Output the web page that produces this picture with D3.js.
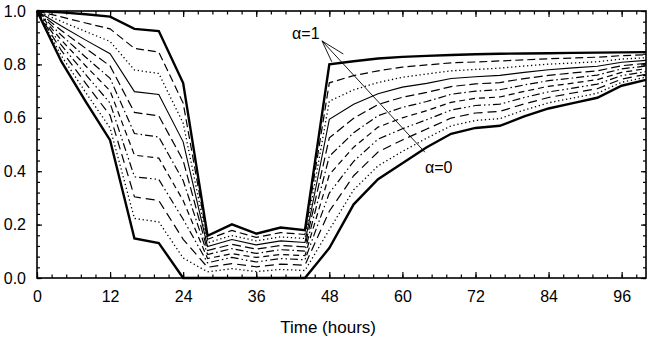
<!DOCTYPE html>
<html>
<head>
<meta charset="utf-8">
<script src="https://cdn.jsdelivr.net/npm/d3@7"></script>
<style>
body { margin: 0; background: #fff; }
svg { display: block; font-family: "Liberation Sans", Arial, sans-serif; }
.axis path { display: none; }
.axis line { stroke: #000; stroke-width: 1.2; }
.axis text { font-size: 16px; fill: #000; }
.frame { fill: none; stroke: #000; stroke-width: 1.6; }
.curve { fill: none; stroke: #000; }
.note { font-size: 16px; fill: #000; }
.pointer { stroke: #000; stroke-width: 0.9; }
</style>
</head>
<body>
<svg class="recovery" width="650" height="342"></svg>
<script>
// sample times (hours)
const hours = [0, 4, 8, 12, 16, 20, 24, 28, 32, 36, 40, 44, 48, 52, 56, 60, 64, 68, 72, 76, 80, 84, 88, 92, 96, 100];

// one curve per alpha
const alpha10 = [1.000, 0.995, 0.988, 0.979, 0.933, 0.925, 0.730, 0.158, 0.201, 0.166, 0.189, 0.179, 0.800, 0.812, 0.822, 0.828, 0.832, 0.835, 0.838, 0.840, 0.841, 0.842, 0.843, 0.844, 0.845, 0.846];
const alpha09 = [1.000, 0.978, 0.955, 0.933, 0.860, 0.846, 0.655, 0.145, 0.178, 0.152, 0.170, 0.163, 0.731, 0.758, 0.776, 0.790, 0.798, 0.806, 0.809, 0.813, 0.817, 0.821, 0.824, 0.827, 0.833, 0.836];
const alpha08 = [1.000, 0.961, 0.923, 0.886, 0.779, 0.766, 0.580, 0.132, 0.159, 0.139, 0.154, 0.148, 0.662, 0.705, 0.732, 0.752, 0.764, 0.776, 0.781, 0.786, 0.794, 0.801, 0.805, 0.810, 0.820, 0.825];
const alpha07 = [1.000, 0.944, 0.891, 0.840, 0.698, 0.687, 0.510, 0.118, 0.144, 0.124, 0.139, 0.133, 0.594, 0.651, 0.690, 0.715, 0.729, 0.747, 0.754, 0.759, 0.770, 0.780, 0.787, 0.793, 0.808, 0.815];
const alpha06 = [1.000, 0.927, 0.860, 0.794, 0.620, 0.607, 0.440, 0.103, 0.126, 0.108, 0.122, 0.117, 0.525, 0.598, 0.650, 0.677, 0.695, 0.717, 0.727, 0.732, 0.747, 0.759, 0.768, 0.776, 0.795, 0.804];
const alpha05 = [1.000, 0.909, 0.827, 0.748, 0.541, 0.528, 0.365, 0.088, 0.110, 0.092, 0.106, 0.101, 0.456, 0.544, 0.608, 0.639, 0.661, 0.688, 0.700, 0.705, 0.723, 0.739, 0.749, 0.760, 0.783, 0.794];
const alpha04 = [1.000, 0.891, 0.794, 0.701, 0.460, 0.449, 0.290, 0.073, 0.091, 0.077, 0.088, 0.084, 0.387, 0.490, 0.565, 0.600, 0.627, 0.658, 0.673, 0.678, 0.699, 0.718, 0.730, 0.743, 0.770, 0.784];
const alpha03 = [1.000, 0.872, 0.762, 0.655, 0.379, 0.369, 0.220, 0.057, 0.077, 0.060, 0.073, 0.068, 0.318, 0.437, 0.520, 0.559, 0.593, 0.629, 0.646, 0.651, 0.676, 0.697, 0.711, 0.726, 0.758, 0.773];
const alpha02 = [1.000, 0.852, 0.729, 0.609, 0.304, 0.290, 0.145, 0.040, 0.054, 0.042, 0.052, 0.048, 0.250, 0.383, 0.472, 0.517, 0.558, 0.599, 0.618, 0.624, 0.652, 0.676, 0.693, 0.709, 0.745, 0.763];
const alpha01 = [1.000, 0.832, 0.695, 0.562, 0.223, 0.210, 0.075, 0.023, 0.035, 0.024, 0.032, 0.028, 0.181, 0.330, 0.420, 0.474, 0.524, 0.570, 0.590, 0.597, 0.629, 0.656, 0.674, 0.692, 0.733, 0.752];
const alpha00 = [1.000, 0.811, 0.661, 0.516, 0.148, 0.131, 0.000, 0.000, 0.000, 0.000, 0.000, 0.000, 0.112, 0.276, 0.370, 0.430, 0.490, 0.540, 0.562, 0.570, 0.605, 0.635, 0.655, 0.675, 0.720, 0.742];

const xTicks = [0, 12, 24, 36, 48, 60, 72, 84, 96];
const yTicks = [0, 0.2, 0.4, 0.6, 0.8, 1.0];
const xLabel = "Time (hours)";
const topLabel = "α=1";
const bottomLabel = "α=0";

function drawRecovery() {
    const svg = d3.select("svg.recovery");
    const margin = {
        top: 11,
        right: 4,
        bottom: 64,
        left: 37
    };
    const width = +svg.attr("width") - margin.left - margin.right;
    const height = +svg.attr("height") - margin.top - margin.bottom;

    const x = d3.scaleLinear().domain([0, 100]).range([0, width]);
    const y = d3.scaleLinear().domain([0, 1]).range([height, 0]);

    const xMinor = d3.range(0, 42).map(i => i * 2.4);
    const yMinor = d3.range(0, 26).map(i => i * 0.04);

    const g = svg.append("g")
        .attr("transform", `translate(${margin.left}, ${margin.top})`);

    // ticks point inwards on all four sides
    g.append("g").attr("class", "axis")
        .attr("transform", `translate(0, ${height})`)
        .call(d3.axisBottom(x).tickValues(xMinor).tickSize(-3.5).tickFormat(""));
    g.append("g").attr("class", "axis")
        .attr("transform", `translate(0, ${height})`)
        .call(d3.axisBottom(x).tickValues(xTicks).tickSize(-6).tickPadding(13).tickFormat(d3.format("d")));
    g.append("g").attr("class", "axis")
        .call(d3.axisTop(x).tickValues(xMinor).tickSize(-3.5).tickFormat(""));
    g.append("g").attr("class", "axis")
        .call(d3.axisTop(x).tickValues(xTicks).tickSize(-6).tickFormat(""));

    g.append("g").attr("class", "axis")
        .call(d3.axisLeft(y).tickValues(yMinor).tickSize(-3).tickFormat(""));
    g.append("g").attr("class", "axis")
        .call(d3.axisLeft(y).tickValues(yTicks).tickSize(-5).tickPadding(11).tickFormat(d3.format(".1f")));
    g.append("g").attr("class", "axis")
        .attr("transform", `translate(${width}, 0)`)
        .call(d3.axisRight(y).tickValues(yMinor).tickSize(-3).tickFormat(""));
    g.append("g").attr("class", "axis")
        .attr("transform", `translate(${width}, 0)`)
        .call(d3.axisRight(y).tickValues(yTicks).tickSize(-5).tickFormat(""));

    const series = [alpha10, alpha09, alpha08, alpha07, alpha06, alpha05, alpha04, alpha03, alpha02, alpha01, alpha00];
    const styles = [
        { w: 2.4, dash: null },
        { w: 1.2, dash: "8,4" },
        { w: 1.3, dash: "1.3,2.7" },
        { w: 1.1, dash: null },
        { w: 1.2, dash: "9,4" },
        { w: 1.2, dash: "8,3,1.5,3" },
        { w: 1.2, dash: "6,4" },
        { w: 1.2, dash: "8,3,1.5,3,1.5,3" },
        { w: 1.2, dash: "9,5" },
        { w: 1.3, dash: "1.3,2.7" },
        { w: 2.4, dash: null }
    ];

    const line = d3.line()
        .x((d, i) => x(hours[i]))
        .y(d => y(d));

    g.selectAll(".curve")
        .data(series)
        .enter().append("path")
        .attr("class", "curve")
        .attr("d", line)
        .attr("stroke-width", (d, i) => styles[i].w)
        .attr("stroke-dasharray", (d, i) => styles[i].dash);

    g.append("rect")
        .attr("class", "frame")
        .attr("width", width)
        .attr("height", height);

    // alpha annotation with pointer lines
    const hub = [x(46.8), y(0.888)];
    const ends = [[50.3, 0.839], [48.4, 0.81], [63.7, 0.471]];
    g.selectAll(".pointer")
        .data(ends)
        .enter().append("line")
        .attr("class", "pointer")
        .attr("x1", hub[0])
        .attr("y1", hub[1])
        .attr("x2", d => x(d[0]))
        .attr("y2", d => y(d[1]));

    g.append("text")
        .attr("class", "note")
        .attr("x", x(46.4))
        .attr("y", y(0.894))
        .attr("text-anchor", "end")
        .text(topLabel);

    g.append("text")
        .attr("class", "note")
        .attr("x", x(63.7))
        .attr("y", y(0.392))
        .text(bottomLabel);

    g.append("text")
        .attr("x", x(47.8))
        .attr("y", height + 55)
        .attr("text-anchor", "middle")
        .attr("font-size", "17px")
        .text(xLabel);
}

drawRecovery();
</script>
</body>
</html>
